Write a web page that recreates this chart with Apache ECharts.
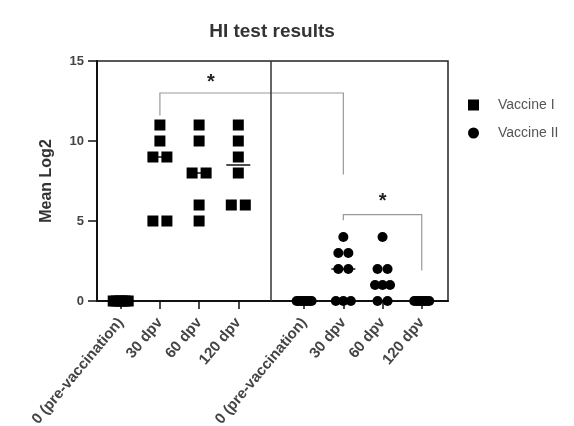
<!DOCTYPE html>
<html><head><meta charset="utf-8">
<script src="https://cdn.jsdelivr.net/npm/echarts@6/dist/echarts.min.js"></script>
<style>html,body{margin:0;padding:0;background:#fff}#c{width:574px;height:426px}</style>
</head><body><div id="c"></div>
<script>
// ---- data ----
const categories = ['0 (pre-vaccination)', '30 dpv', '60 dpv', '120 dpv'];
const vaccineI = [
  [0, 0, 0, 0, 0, 0],
  [11, 10, 9, 9, 5, 5],
  [11, 10, 8, 8, 6, 5],
  [11, 10, 9, 8, 6, 6]
];
const vaccineII = [
  [0, 0, 0, 0, 0, 0, 0, 0],
  [4, 3, 3, 2, 2, 0, 0, 0],
  [4, 2, 2, 1, 1, 1, 0, 0],
  [0, 0, 0, 0, 0, 0, 0, 0]
];
const yTicks = [0, 5, 10, 15];
// significance brackets: [fromGroup, fromCat, toGroup, toCat, topY, leftLegEndY, rightLegEndY]
const brackets = [
  [0, 1, 1, 1, 13, 11.6, 7.9],
  [1, 1, 1, 3, 5.4, 5.05, 1.9]
];
// stars: [group, cat, y]
const stars = [
  [0, 2.3, 13.9],
  [1, 2, 6.5]
];

// ---- layout ----
const G2 = 4.68;            // start of second group on the x scale
const X_MIN = -0.605, X_MAX = 8.35;
const GRID = { left: 97, right: 126, top: 61, bottom: 125 };
const CW = 574;
const UNIT = (CW - GRID.left - GRID.right) / (X_MAX - X_MIN);
function pos(g, i) { return g * G2 + i; }

function swarm(values, g, i, stepPx, maxPx) {
  const counts = {}, seen = {};
  values.forEach(v => counts[v] = (counts[v] || 0) + 1);
  return values.map(v => {
    const n = counts[v];
    const k = seen[v] = (seen[v] || 0); seen[v]++;
    const step = n > 1 ? Math.min(stepPx, maxPx / (n - 1)) : 0;
    return [pos(g, i) + (k - (n - 1) / 2) * step / UNIT, v];
  });
}
function median(a) {
  const s = a.slice().sort((x, y) => x - y), m = s.length / 2;
  return s.length % 2 ? s[Math.floor(m)] : (s[m - 1] + s[m]) / 2;
}

const dataI = [], dataII = [], medians = [];
vaccineI.forEach((vals, i) => { dataI.push(...swarm(vals, 0, i, 14, 15)); medians.push([pos(0, i), median(vals)]); });
vaccineII.forEach((vals, i) => { dataII.push(...swarm(vals, 1, i, 10, 15)); medians.push([pos(1, i), median(vals)]); });

const tickPositions = [];
const tickNames = {};
[0, 1].forEach(g => categories.forEach((c, i) => { const p = pos(g, i); tickPositions.push(p); tickNames[p.toFixed(4)] = c; }));

const bracketData = brackets.map(b => [pos(b[0], b[1]), pos(b[2], b[3]), b[4], b[5], b[6]]);
const starData = stars.map(s => [pos(s[0], s[1]), s[2]]);

const chart = echarts.init(document.getElementById('c'), null, { renderer: 'canvas' });
const FONT = 'Liberation Sans, Arial, sans-serif';
chart.setOption({
  animation: false,
  backgroundColor: '#fff',
  title: {
    text: 'HI test results', left: 267, top: 17, textAlign: 'center',
    textStyle: { fontFamily: FONT, fontSize: 19, fontWeight: 'bold', color: '#333' }
  },
  legend: {
    orient: 'vertical', left: 463, top: 93, itemWidth: 11, itemHeight: 11, itemGap: 14,
    data: [{ name: 'Vaccine I', icon: 'rect' }, { name: 'Vaccine II', icon: 'circle' }],
    itemStyle: { opacity: 1 },
    textStyle: { fontFamily: FONT, fontSize: 14, color: '#555', padding: [0, 0, 0, 14] }
  },
  grid: { left: GRID.left, right: GRID.right, top: GRID.top, bottom: GRID.bottom, show: true,
    borderColor: '#222', borderWidth: 1.5, containLabel: false, outerBoundsMode: 'none' },
  xAxis: {
    type: 'value', min: X_MIN, max: X_MAX, splitLine: { show: false },
    axisLine: { show: true, lineStyle: { color: '#111', width: 2 } },
    axisTick: { show: true, customValues: tickPositions, length: 8, lineStyle: { color: '#111', width: 1.5 } },
    axisLabel: {
      customValues: tickPositions, rotate: 50, margin: 19,
      fontFamily: FONT, fontSize: 15, fontWeight: 'bold', color: '#444',
      formatter: v => tickNames[Number(v).toFixed(4)] || ''
    }
  },
  yAxis: {
    type: 'value', min: 0, max: 15, interval: 5, splitLine: { show: false },
    axisLine: { show: true, onZero: false, lineStyle: { color: '#111', width: 2 } },
    axisTick: { show: true, length: 9, lineStyle: { color: '#111', width: 1.5 } },
    axisLabel: { fontFamily: FONT, fontSize: 13, fontWeight: 'bold', color: '#444', margin: 13,
      customValues: yTicks },
    name: 'Mean Log2', nameLocation: 'middle', nameGap: 42,
    nameTextStyle: { fontFamily: FONT, fontSize: 16, fontWeight: 'bold', color: '#333' }
  },
  series: [
    {
      name: 'Vaccine I', type: 'scatter', symbol: 'rect', symbolSize: 11, z: 5,
      itemStyle: { color: '#000', opacity: 1 }, data: dataI,
      markLine: {
        silent: true, symbol: 'none', label: { show: false },
        lineStyle: { color: '#333', width: 1.5, type: 'solid' },
        data: [{ xAxis: (3 + G2) / 2 }]
      }
    },
    {
      name: 'Vaccine II', type: 'scatter', symbol: 'circle', symbolSize: 10, z: 5,
      itemStyle: { color: '#000', opacity: 1 }, data: dataII
    },
    {
      type: 'custom', z: 4, silent: true, data: medians,
      renderItem: (params, api) => {
        const c = api.coord([api.value(0), api.value(1)]);
        return { type: 'line', shape: { x1: c[0] - 12, y1: c[1], x2: c[0] + 12, y2: c[1] },
          style: { stroke: '#111', lineWidth: 1.5 } };
      }
    },
    {
      type: 'custom', z: 4, silent: true, data: bracketData,
      renderItem: (params, api) => {
        const a = api.coord([api.value(0), api.value(3)]);
        const b = api.coord([api.value(0), api.value(2)]);
        const c = api.coord([api.value(1), api.value(2)]);
        const d = api.coord([api.value(1), api.value(4)]);
        return { type: 'polyline', shape: { points: [a, b, c, d] },
          style: { stroke: '#999', lineWidth: 1.2, fill: null } };
      }
    },
    {
      type: 'custom', z: 4, silent: true, data: starData,
      renderItem: (params, api) => {
        const c = api.coord([api.value(0), api.value(1)]);
        return { type: 'text', x: c[0], y: c[1] + 4,
          style: { text: '*', fontFamily: FONT, fontSize: 20, fontWeight: 'bold', fill: '#222', align: 'center', verticalAlign: 'middle' } };
      }
    }
  ]
});
</script></body></html>
